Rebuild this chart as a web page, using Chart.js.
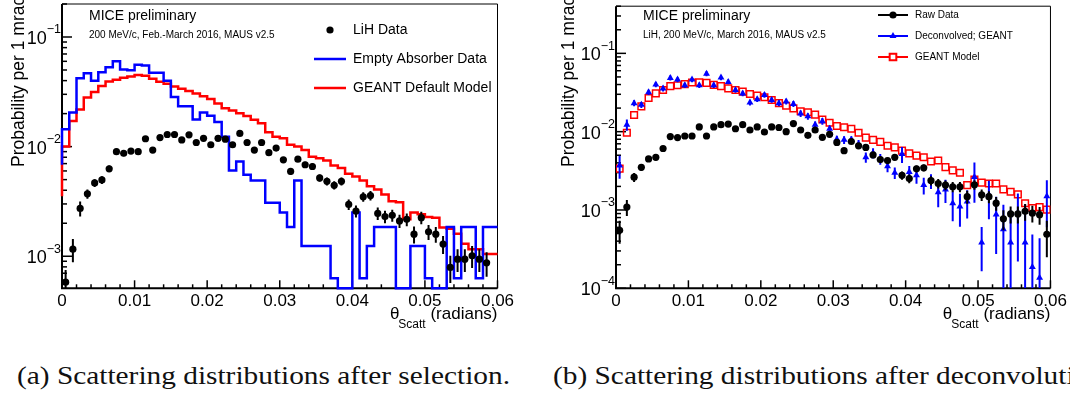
<!DOCTYPE html>
<html>
<head>
<meta charset="utf-8">
<script src="https://cdn.jsdelivr.net/npm/chart.js@4.4.1/dist/chart.umd.min.js"></script>
<style>
    body { margin: 0; background: #fff; width: 1070px; height: 396px; overflow: hidden; position: relative; }
    .panel { position: absolute; top: 0; width: 535px; height: 340px; }
    #panelA { left: 0; }
    #panelB { left: 535px; }
    .caption { position: absolute; top: 363px; font-family: 'Liberation Serif', serif; font-size: 25px; line-height: 25px;
               white-space: nowrap; transform-origin: left top; color: #111; }
</style>
</head>
<body>
<div class="panel" id="panelA"><canvas id="chartA" width="535" height="340"></canvas></div>
<div class="panel" id="panelB"><canvas id="chartB" width="535" height="340"></canvas></div>
<div class="caption" id="capA" style="left:17px">(a) Scattering distributions after selection.</div>
<div class="caption" id="capB" style="left:553px">(b) Scattering distributions after deconvolution.</div>
<script>
// bins of 1 mrad from 0 to 0.06 rad
const binWidth = 0.001;
const xTickLabels = ['0', '0.01', '0.02', '0.03', '0.04', '0.05', '0.06'];
const yDecadesA = [-3, -2, -1];
const yDecadesB = [-4, -3, -2, -1];

// (a) after selection
const lihData = [5.8e-4, 1.16e-3, 2.73e-3, 3.71e-3, 4.66e-3, 4.97e-3, 6.28e-3, 9.0e-3, 8.7e-3, 9.1e-3,
    9.0e-3, 1.18e-2, 9.3e-3, 1.21e-2, 1.29e-2, 1.29e-2, 1.15e-2, 1.28e-2, 1.09e-2, 1.19e-2,
    1.04e-2, 1.19e-2, 1.17e-2, 1.04e-2, 1.32e-2, 1.09e-2, 9.3e-3, 1.09e-2, 8.8e-3, 9.7e-3,
    7.58e-3, 5.94e-3, 7.69e-3, 6.83e-3, 6.59e-3, 5.18e-3, 4.82e-3, 4.44e-3, 4.82e-3, 2.97e-3,
    2.58e-3, 3.49e-3, 3.58e-3, 2.46e-3, 2.30e-3, 2.36e-3, 2.10e-3, 2.17e-3, 1.59e-3, 2.25e-3,
    1.67e-3, 1.59e-3, 1.29e-3, 7.9e-4, 9.4e-4, 9.4e-4, 1.01e-3, 9.4e-4, 8.7e-4, null];
const lihErr = [1.7e-4, 2.8e-4, 4.2e-4, 3.6e-4, 3.8e-4, 4.0e-4, 4.5e-4, 5.5e-4, 5.5e-4, 5.5e-4,
    5.5e-4, 6.0e-4, 5.5e-4, 6.0e-4, 6.0e-4, 6.0e-4, 6.0e-4, 6.0e-4, 5.5e-4, 6.0e-4,
    5.5e-4, 6.0e-4, 6.0e-4, 5.5e-4, 6.0e-4, 5.5e-4, 5.5e-4, 5.5e-4, 5.0e-4, 5.5e-4,
    4.5e-4, 4.2e-4, 4.5e-4, 4.5e-4, 4.5e-4, 4.0e-4, 4.0e-4, 3.8e-4, 4.0e-4, 3.3e-4,
    3.2e-4, 3.5e-4, 3.5e-4, 3.2e-4, 3.0e-4, 3.0e-4, 2.9e-4, 2.9e-4, 2.8e-4, 2.9e-4,
    2.6e-4, 2.6e-4, 2.4e-4, 2.2e-4, 2.2e-4, 2.2e-4, 2.3e-4, 2.2e-4, 2.2e-4, 0];
const emptyAbsorber = [6.83e-3, 1.44e-2, 2.05e-2, 4.21e-2, 4.67e-2, 3.99e-2, 4.78e-2, 5.3e-2, 6.0e-2, 5.05e-2,
    4.98e-2, 5.57e-2, 5.49e-2, 4.71e-2, 4.71e-2, 3.99e-2, 2.83e-2, 2.33e-2, 2.33e-2, 1.77e-2,
    2.05e-2, 1.91e-2, 1.68e-2, 1.23e-2, 6.07e-3, 7.31e-3, 5.55e-3, 4.92e-3, 4.92e-3, 3.07e-3,
    3.07e-3, 2.5e-3, 1.85e-3, 4.92e-3, 1.24e-3, 1.24e-3, 1.24e-3, 1.24e-3, 6.3e-4, 0,
    0, 2.5e-3, 6.3e-4, 1.24e-3, 1.85e-3, 1.85e-3, 1.85e-3, 0, 0, 1.24e-3,
    1.24e-3, 6.3e-4, 0, 0, 1.85e-3, 6.3e-4, 1.85e-3, 1.85e-3, 6.3e-4, 1.85e-3];
const geantDefault = [3.53e-3, 1.0e-2, 1.71e-2, 2.18e-2, 2.80e-2, 3.15e-2, 3.57e-2, 3.93e-2, 4.07e-2, 4.25e-2,
    4.37e-2, 4.49e-2, 4.43e-2, 4.16e-2, 3.90e-2, 3.75e-2, 3.54e-2, 3.38e-2, 3.21e-2, 3.06e-2,
    2.88e-2, 2.72e-2, 2.48e-2, 2.24e-2, 2.13e-2, 2.02e-2, 1.90e-2, 1.76e-2, 1.63e-2, 1.35e-2,
    1.23e-2, 1.19e-2, 1.04e-2, 1.00e-2, 9.3e-3, 8.1e-3, 7.85e-3, 7.47e-3, 6.73e-3, 6.37e-3,
    5.66e-3, 5.35e-3, 4.92e-3, 4.34e-3, 4.06e-3, 3.65e-3, 3.18e-3, 3.11e-3, 2.17e-3, 2.50e-3,
    2.41e-3, 2.28e-3, 2.25e-3, 1.83e-3, 1.78e-3, 1.60e-3, 1.30e-3, 1.16e-3, 1.16e-3, 1.05e-3];

// (b) after deconvolution
const rawData = [5.5e-4, 1.09e-3, 2.62e-3, 3.5e-3, 4.49e-3, 4.71e-3, 6.1e-3, 8.65e-3, 8.4e-3, 8.8e-3,
    8.8e-3, 1.15e-2, 8.8e-3, 1.15e-2, 1.23e-2, 1.25e-2, 1.09e-2, 1.23e-2, 1.05e-2, 1.15e-2,
    9.9e-3, 1.15e-2, 1.13e-2, 1.0e-2, 1.27e-2, 1.05e-2, 8.97e-3, 1.05e-2, 8.47e-3, 9.25e-3,
    7.28e-3, 5.72e-3, 7.49e-3, 6.6e-3, 6.29e-3, 5.04e-3, 4.4e-3, 4.28e-3, 4.71e-3, 2.77e-3,
    2.52e-3, 3.36e-3, 3.46e-3, 2.38e-3, 2.18e-3, 2.08e-3, 1.98e-3, 1.98e-3, 1.48e-3, 2.1e-3,
    1.56e-3, 1.48e-3, 1.22e-3, 7.7e-4, 8.9e-4, 8.9e-4, 9.6e-4, 9.1e-4, 8.7e-4, 4.9e-4];
const rawErr = [1.8e-4, 2.5e-4, 3.5e-4, 3.5e-4, 3.8e-4, 4.0e-4, 4.5e-4, 5.5e-4, 5.5e-4, 5.5e-4,
    5.5e-4, 6.0e-4, 5.5e-4, 6.0e-4, 6.0e-4, 6.0e-4, 6.0e-4, 6.0e-4, 5.5e-4, 6.0e-4,
    5.5e-4, 6.0e-4, 6.0e-4, 5.5e-4, 6.0e-4, 5.5e-4, 5.5e-4, 5.5e-4, 5.0e-4, 5.5e-4,
    4.5e-4, 4.2e-4, 4.5e-4, 4.5e-4, 4.5e-4, 4.0e-4, 4.0e-4, 3.8e-4, 4.0e-4, 3.3e-4,
    3.2e-4, 3.5e-4, 3.5e-4, 3.2e-4, 3.0e-4, 3.0e-4, 2.9e-4, 2.9e-4, 2.8e-4, 2.9e-4,
    2.6e-4, 2.6e-4, 2.4e-4, 2.2e-4, 2.2e-4, 2.2e-4, 2.3e-4, 2.2e-4, 2.2e-4, 2.4e-4];
const deconvGeant = [3.71e-3, 1.23e-2, 2.31e-2, 2.20e-2, 3.18e-2, 4.0e-2, 3.56e-2, 4.85e-2, 4.62e-2, 3.92e-2,
    4.62e-2, 3.92e-2, 5.5e-2, 3.92e-2, 4.9e-2, 4.32e-2, 3.4e-2, 3.08e-2, 2.36e-2, 2.59e-2,
    2.94e-2, 2.54e-2, 2.31e-2, 2.43e-2, 2.26e-2, 1.70e-2, 1.57e-2, 1.23e-2, 1.36e-2, 1.09e-2,
    8.0e-3, 7.86e-3, 7.86e-3, 6.92e-3, 4.71e-3, 5.33e-3, 4.49e-3, 3.63e-3, 2.99e-3, 5.19e-3,
    3.05e-3, 2.77e-3, 2.08e-3, 2.36e-3, 1.68e-3, 1.83e-3, 1.22e-3, 1.11e-3, 1.28e-3, 2.64e-3,
    3.85e-4, 1.56e-3, 8.75e-4, 5.66e-4, 3.85e-4, 9.2e-4, 3.85e-4, 1.87e-4, 1.36e-4, 1.5e-3];
const deconvErr = [1.2e-3, 2.0e-3, 2.0e-3, 2.0e-3, 2.5e-3, 3.0e-3, 3.0e-3, 3.5e-3, 3.5e-3, 3.0e-3,
    3.5e-3, 3.0e-3, 4.0e-3, 3.0e-3, 3.5e-3, 3.0e-3, 2.5e-3, 2.5e-3, 2.0e-3, 2.0e-3,
    2.2e-3, 2.0e-3, 2.0e-3, 2.0e-3, 2.0e-3, 1.6e-3, 1.5e-3, 1.2e-3, 1.3e-3, 1.1e-3,
    9.0e-4, 9.0e-4, 9.0e-4, 9.0e-4, 7.0e-4, 8.0e-4, 7.0e-4, 6.0e-4, 5.0e-4, 1.2e-3,
    6.0e-4, 6.0e-4, 5.0e-4, 5.0e-4, 6.0e-4, 6.0e-4, 5.0e-4, 5.0e-4, 5.0e-4, 1.4e-3,
    2.2e-4, 8.0e-4, 6.0e-4, 6.0e-4, 6.0e-4, 7.0e-4, 8.0e-4, 3.0e-4, 3.0e-4, 9.0e-4];
const geantModel = [3.37e-3, 9.7e-3, 1.63e-2, 2.10e-2, 2.69e-2, 3.08e-2, 3.40e-2, 3.81e-2, 3.92e-2, 4.04e-2,
    4.24e-2, 4.28e-2, 4.20e-2, 3.96e-2, 3.81e-2, 3.57e-2, 3.40e-2, 3.24e-2, 3.03e-2, 2.88e-2,
    2.75e-2, 2.54e-2, 2.31e-2, 2.14e-2, 1.98e-2, 1.82e-2, 1.77e-2, 1.65e-2, 1.43e-2, 1.30e-2,
    1.18e-2, 1.14e-2, 1.09e-2, 9.7e-3, 8.4e-3, 7.86e-3, 7.41e-3, 6.61e-3, 6.29e-3, 5.72e-3,
    5.29e-3, 4.95e-3, 4.71e-3, 4.16e-3, 4.28e-3, 3.53e-3, 3.21e-3, 2.99e-3, 2.08e-3, 2.44e-3,
    2.24e-3, 2.18e-3, 2.18e-3, 1.83e-3, 1.71e-3, 1.58e-3, 1.22e-3, 1.06e-3, 1.09e-3, 1.01e-3];

const FONT = '"Liberation Sans", Arial, sans-serif';
const centres = lihData.map((_, i) => (i + 0.5) * binWidth);
const edges = centres.map(c => c - binWidth / 2).concat([centres.length * binWidth]);

const points = (vals) => vals.map((v, i) => ({ x: centres[i], y: v }));
// empty bins sit on the bottom of the frame, like ROOT does on a log axis
const steps = (vals, floor) => edges.map((x, i) => {
    const v = vals[Math.min(i, vals.length - 1)];
    return { x, y: v > 0 ? v : floor };
});

function drawFrame(chart, o) {
    const { ctx, chartArea: a, scales: { x, y } } = chart;
    ctx.save();
    ctx.strokeStyle = '#000';
    ctx.lineWidth = 1;
    ctx.beginPath();
    ctx.moveTo(a.left, a.top); ctx.lineTo(a.right, a.top); ctx.lineTo(a.right, a.bottom);
    ctx.stroke();
    ctx.lineWidth = 2;
    ctx.beginPath();
    ctx.moveTo(a.left, a.top); ctx.lineTo(a.left, a.bottom); ctx.lineTo(a.right, a.bottom);
    ctx.stroke();

    ctx.lineWidth = 1.5;
    for (let i = 0; i <= 30; i++) {
        const px = x.getPixelForValue(i * 0.002);
        const len = i % 5 === 0 ? 8 : 4;
        ctx.beginPath(); ctx.moveTo(px, a.bottom); ctx.lineTo(px, a.bottom - len); ctx.stroke();
    }
    for (let e = Math.floor(Math.log10(y.min)); e <= 0; e++) {
        for (let m = 1; m <= 9; m++) {
            const v = m * Math.pow(10, e);
            if (v < y.min || v > y.max) continue;
            const py = y.getPixelForValue(v);
            const len = m === 1 ? 10 : 5;
            ctx.beginPath(); ctx.moveTo(a.left, py); ctx.lineTo(a.left + len, py); ctx.stroke();
        }
    }

    // log labels 10^n
    ctx.fillStyle = '#000';
    ctx.textAlign = 'right';
    ctx.textBaseline = 'middle';
    o.decades.forEach(e => {
        const py = y.getPixelForValue(Math.pow(10, e));
        const sup = '\u2212' + Math.abs(e);
        ctx.font = '12.5px ' + FONT;
        ctx.fillText(sup, a.left - 1, py - 7);
        const w = ctx.measureText(sup).width;
        ctx.font = '18px ' + FONT;
        ctx.fillText('10', a.left - 1 - w, py + 2);
    });
    ctx.restore();
}

function drawErrors(chart, index) {
    const ds = chart.data.datasets[index];
    if (!ds.errors) return;
    const { ctx, chartArea: a, scales: { x, y } } = chart;
    ctx.save();
    ctx.beginPath();
    ctx.rect(a.left, a.top, a.width, a.height);
    ctx.clip();
    ctx.strokeStyle = ds.borderColor;
    ctx.lineWidth = 2;
    ds.data.forEach((p, i) => {
        if (p.y == null) return;
        const err = ds.errors[i];
        const px = x.getPixelForValue(p.x);
        const lo = p.y - err;
        const top = y.getPixelForValue(p.y + err);
        const bot = lo > 0 ? y.getPixelForValue(lo) : a.bottom;
        ctx.beginPath(); ctx.moveTo(px, top); ctx.lineTo(px, bot); ctx.stroke();
    });
    ctx.restore();
}

function drawMarker(ctx, item, x, y) {
    ctx.save();
    ctx.fillStyle = item.fill;
    ctx.strokeStyle = item.color;
    Chart.helpers.drawPoint(ctx, { pointStyle: item.marker, radius: item.radius, borderWidth: item.markerBorder || 0, rotation: 0 }, x, y);
    ctx.restore();
}

function drawTexts(chart, o) {
    const { ctx, chartArea: a } = chart;
    ctx.save();
    ctx.fillStyle = '#000';
    ctx.textBaseline = 'middle';
    ctx.textAlign = 'left';
    ctx.font = '14px ' + FONT;
    ctx.fillText('MICE preliminary', o.titleX, 16);
    ctx.font = '10px ' + FONT;
    ctx.fillText(o.subtitle, o.titleX, 35);

    // legend
    const L = o.legend;
    L.items.forEach((item, k) => {
        const ly = L.y + k * L.dy;
        if (item.line) {
            ctx.strokeStyle = item.color;
            ctx.lineWidth = L.lineWidth;
            ctx.beginPath(); ctx.moveTo(L.x0, ly); ctx.lineTo(L.x1, ly); ctx.stroke();
        }
        if (item.marker) drawMarker(ctx, item, (L.x0 + L.x1) / 2, ly);
        ctx.fillStyle = '#000';
        ctx.font = L.font + 'px ' + FONT;
        ctx.fillText(item.text, L.tx, ly);
    });

    // y title
    ctx.save();
    ctx.translate(o.yTitleX, 167);
    ctx.rotate(-Math.PI / 2);
    ctx.textBaseline = 'alphabetic';
    ctx.font = '17.5px ' + FONT;
    ctx.fillText('Probability per 1 mrad', 0, 0);
    ctx.restore();

    // x title, right aligned to the axis end
    ctx.textBaseline = 'alphabetic';
    ctx.textAlign = 'right';
    ctx.font = '17px ' + FONT;
    const tail = ' (radians)';
    ctx.fillText(tail, a.right, 319);
    const w1 = ctx.measureText(tail).width;
    ctx.font = '12px ' + FONT;
    ctx.fillText('Scatt', a.right - w1, 328);
    const w2 = ctx.measureText('Scatt').width;
    ctx.font = '17px ' + FONT;
    ctx.fillText('\u03B8', a.right - w1 - w2 + 1, 319);
    ctx.restore();
}

const rootStyle = {
    id: 'rootStyle',
    beforeDatasetsDraw: (chart, args, o) => drawFrame(chart, o),
    beforeDatasetDraw: (chart, args) => drawErrors(chart, args.index),
    afterDraw: (chart, args, o) => drawTexts(chart, o)
};

function makeChart(id, datasets, yMin, yMax, axisWidth, padRight, style) {
    return new Chart(document.getElementById(id), {
        type: 'line',
        data: { datasets },
        plugins: [rootStyle],
        options: {
            responsive: false,
            animation: false,
            devicePixelRatio: 1,
            layout: { padding: { top: 2, right: padRight, left: 0, bottom: 0 } },
            plugins: { legend: { display: false }, tooltip: { enabled: false }, rootStyle: style },
            scales: {
                x: {
                    type: 'linear', min: 0, max: 0.06,
                    grid: { display: false, drawTicks: false },
                    border: { display: false },
                    ticks: {
                        stepSize: 0.01, autoSkip: false, maxRotation: 0, padding: 3,
                        color: '#000', font: { family: FONT, size: 17 },
                        callback: (v, i) => xTickLabels[i]
                    },
                    afterFit: (s) => { s.height = 51.7; }
                },
                y: {
                    type: 'logarithmic', min: yMin, max: yMax,
                    grid: { display: false, drawTicks: false },
                    border: { display: false },
                    ticks: { display: false },
                    afterFit: (s) => { s.width = axisWidth; }
                }
            }
        }
    });
}

const yMinA = 5.1e-4, yMaxA = 0.2;
makeChart('chartA', [
    {
        label: 'LiH Data', data: points(lihData), errors: lihErr, showLine: false, order: 0,
        borderColor: '#000', pointStyle: 'circle', pointRadius: 3.6, pointBackgroundColor: '#000', pointBorderWidth: 0
    },
    {
        label: 'Empty Absorber Data', data: steps(emptyAbsorber, yMinA), stepped: 'after', order: 1,
        borderColor: '#0000ff', borderWidth: 2.5, pointRadius: 0, clip: 3
    },
    {
        label: 'GEANT Default Model', data: steps(geantDefault, yMinA), stepped: 'after', order: 2,
        borderColor: '#ff0000', borderWidth: 2.5, pointRadius: 0, clip: 3
    }
], yMinA, yMaxA, 62, 37.5, {
    decades: yDecadesA,
    titleX: 89,
    subtitle: '200 MeV/c, Feb.-March 2016, MAUS v2.5',
    yTitleX: 23.5,
    legend: {
        x0: 314, x1: 346, tx: 353, y: 30, dy: 29, lineWidth: 2.5, font: 14,
        items: [
            { text: 'LiH Data', color: '#000', fill: '#000', marker: 'circle', radius: 3.6, line: false },
            { text: 'Empty Absorber Data', color: '#0000ff', line: true },
            { text: 'GEANT Default Model', color: '#ff0000', line: true }
        ]
    }
});

makeChart('chartB', [
    {
        label: 'Raw Data', data: points(rawData), errors: rawErr, showLine: false, order: 0,
        borderColor: '#000', pointStyle: 'circle', pointRadius: 3.6, pointBackgroundColor: '#000', pointBorderWidth: 0
    },
    {
        label: 'Deconvolved; GEANT', data: points(deconvGeant), errors: deconvErr, showLine: false, order: 1,
        borderColor: '#0000ff', pointStyle: 'triangle', pointRadius: 4, pointBackgroundColor: '#0000ff', pointBorderWidth: 0
    },
    {
        label: 'GEANT Model', data: points(geantModel), showLine: false, order: 2,
        borderColor: '#ff0000', pointStyle: 'rect', pointRadius: 4.7, pointBackgroundColor: 'rgba(0,0,0,0)',
        pointBorderColor: '#ff0000', pointBorderWidth: 1.5
    }
], 1e-4, 0.4, 81, 17.7, {
    decades: yDecadesB,
    titleX: 108,
    subtitle: 'LiH, 200 MeV/c, March 2016, MAUS v2.5',
    yTitleX: 39,
    legend: {
        x0: 343, x1: 373, tx: 380, y: 15, dy: 21, lineWidth: 2, font: 10,
        items: [
            { text: 'Raw Data', color: '#000', fill: '#000', marker: 'circle', radius: 3.6, line: true },
            { text: 'Deconvolved; GEANT', color: '#0000ff', fill: '#0000ff', marker: 'triangle', radius: 4, line: true },
            { text: 'GEANT Model', color: '#ff0000', fill: '#fff', marker: 'rect', radius: 4.7, markerBorder: 1.5, line: true }
        ]
    }
});

// stretch the Times-like captions to the width of the original serif captions
const capA = document.getElementById('capA');
const stretch = 493 / capA.offsetWidth;
['capA', 'capB'].forEach(id => {
    document.getElementById(id).style.transform = 'scaleX(' + stretch + ')';
});
</script>
</body>
</html>
